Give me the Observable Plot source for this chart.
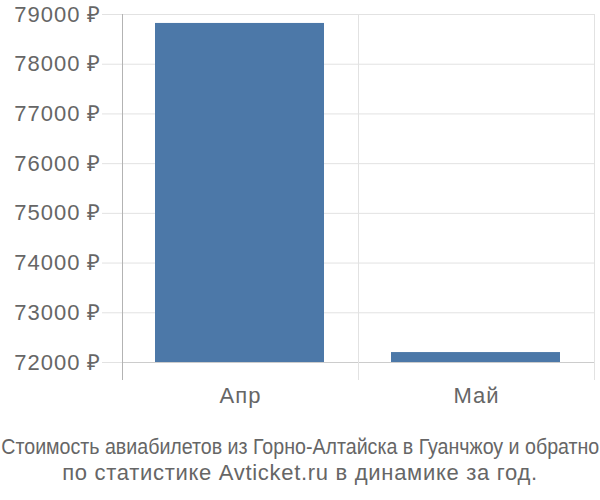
<!DOCTYPE html>
<html><head><meta charset="utf-8">
<script src="https://cdn.jsdelivr.net/npm/d3@7"></script>
<script src="https://cdn.jsdelivr.net/npm/@observablehq/plot@0.6"></script>
<style>
body{margin:0;background:#fff;font-family:"Liberation Sans",Arial,sans-serif;}
#chart svg{display:block;}
#chart svg text{letter-spacing:1px;}
#caption{width:600px;text-align:center;color:#666;font-size:22px;line-height:26px;margin-top:14px;}
#caption .l1{display:inline-block;white-space:nowrap;transform-origin:center;}
#caption .l1wrap{width:600px;display:flex;justify-content:center;overflow:visible;}
#caption .l2{letter-spacing:0.7px;}
</style>
</head><body><div id="chart"></div><div id="caption"></div>
<script>
const months = ["Апр", "Май"];
const prices = [78820, 72200];
const yTicks = [72000, 73000, 74000, 75000, 76000, 77000, 78000, 79000];
const captionLines = [
  "Стоимость авиабилетов из Горно-Алтайска в Гуанчжоу и обратно",
  "по статистике Avticket.ru в динамике за год."
];
const data = months.map((m, i) => ({month: m, idx: i, price: prices[i]}));
const boundaries = d3.range(months.length + 1);

const chart = Plot.plot({
  width: 600, height: 420,
  marginLeft: 122, marginRight: 6, marginTop: 14, marginBottom: 40,
  style: {fontFamily: "'Liberation Sans', Arial, sans-serif", color: "#666"},
  x: {type: "linear", domain: [0, months.length]},
  y: {domain: [72000, 79000], insetBottom: 18},
  marks: [
    Plot.ruleY(yTicks, {stroke: "#e2e2e2", insetLeft: -20}),
    Plot.ruleY([72000], {stroke: "#cccccc"}),
    Plot.ruleX(boundaries, {stroke: d => d === 0 ? "#b3b3b3" : "#e2e2e2"}),
    Plot.rectY(data, {x1: "idx", x2: d => d.idx + 1, y1: 72000, y2: "price", insetLeft: 33, insetRight: 34, fill: "#4c78a8"}),
    Plot.axisY({ticks: yTicks, tickSize: 0, tickPadding: 21, tickFormat: d => d + " ₽", fontSize: 22, fill: "#666", label: null}),
    Plot.axisX({ticks: months.map((m, i) => i + 0.5), tickFormat: v => months[Math.floor(v)], tickSize: 0, tickPadding: 7, fontSize: 22, fill: "#666", label: null})
  ]
});
document.getElementById("chart").appendChild(chart);
const cap = document.getElementById("caption");
cap.innerHTML = `<div class="l1wrap"><span class="l1">${captionLines[0]}</span></div><div class="l2">${captionLines[1]}</div>`;
const l1 = cap.querySelector(".l1");
const w = l1.getBoundingClientRect().width;
if (w > 598) l1.style.transform = `scaleX(${598 / w})`;
</script>
</body></html>
